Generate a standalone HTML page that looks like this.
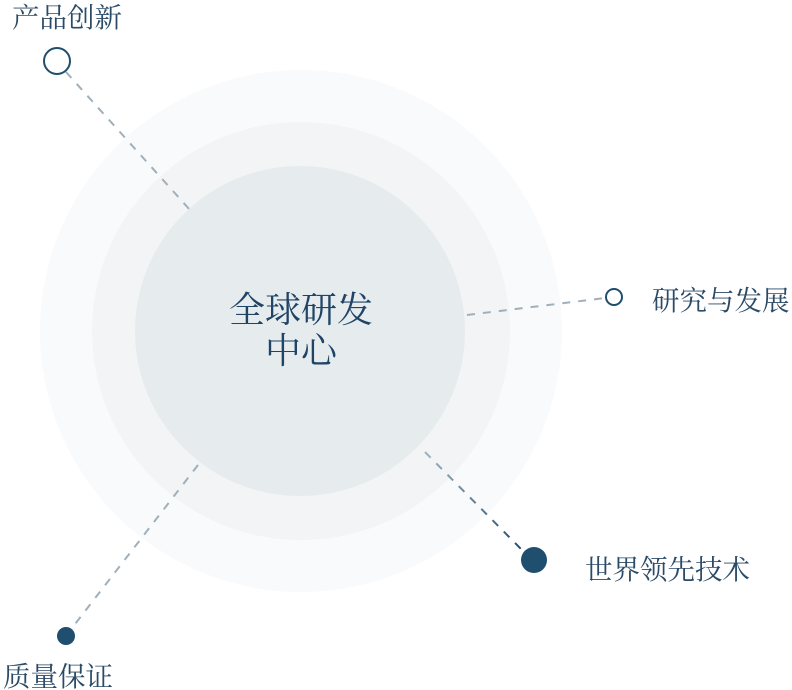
<!DOCTYPE html>
<html><head><meta charset="utf-8"><style>
html,body{margin:0;padding:0;background:#fff}
svg{display:block}
text{font-family:"Liberation Serif","Noto Serif CJK SC",serif;fill:#2b4a66}
</style></head><body>
<svg width="792" height="690" viewBox="0 0 792 690">
<defs>
<linearGradient id="g1" x1="425" y1="452" x2="522" y2="550" gradientUnits="userSpaceOnUse">
<stop offset="0" stop-color="#a3b2bd"/><stop offset="1" stop-color="#1f4e6e"/></linearGradient>
</defs>
<circle cx="301" cy="331" r="261" fill="#f9fafb"/>
<circle cx="301" cy="331" r="209" fill="#f2f4f5"/>
<circle cx="300" cy="331" r="165" fill="#e6ecee"/>
<g stroke-width="2" stroke-dasharray="8,8" fill="none">
<line x1="66" y1="72" x2="190" y2="210" stroke="#a0b0bb"/>
<line x1="467" y1="315" x2="605" y2="298" stroke="#a0b0bb"/>
<line x1="425" y1="452" x2="522" y2="550" stroke="url(#g1)"/>
<line x1="198" y1="465" x2="72" y2="628" stroke="#a0b0bb"/>
</g>
<circle cx="57" cy="61" r="13" fill="#fff" stroke="#1f4e6e" stroke-width="2"/>
<circle cx="614" cy="297" r="8" fill="#fff" stroke="#1f4e6e" stroke-width="2"/>
<circle cx="534" cy="560" r="13" fill="#1f4e6e"/>
<circle cx="66" cy="636" r="9" fill="#1f4e6e"/>
<text x="12" y="27" font-size="27.5">产品创新</text>
<text x="652" y="310" font-size="27.5">研究与发展</text>
<text x="585" y="579" font-size="27.5">世界领先技术</text>
<text x="3" y="686" font-size="27.5">质量保证</text>
<text x="301" y="322" font-size="36" text-anchor="middle" style="fill:#1f4466">全球研发</text>
<text x="301" y="363" font-size="36" text-anchor="middle" style="fill:#1f4466">中心</text>
</svg>
</body></html>
